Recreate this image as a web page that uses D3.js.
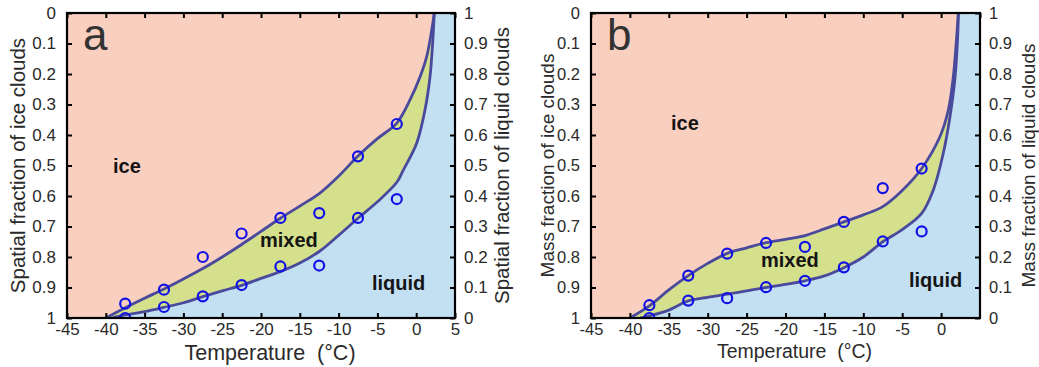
<!DOCTYPE html>
<html>
<head>
<meta charset="utf-8">
<script src="https://cdn.jsdelivr.net/npm/d3@7"></script>
<style>
  body { margin: 0; background: #fff; }
  svg { display: block; font-family: "Liberation Sans", Arial, sans-serif; }
</style>
</head>
<body>
<div id="chart"></div>
<script>
// datos
const tempTicks = [-45, -40, -35, -30, -25, -20, -15, -10, -5, 0, 5];
const tempTicksB = [-45, -40, -35, -30, -25, -20, -15, -10, -5, 0];
const fracTicks = [0, 0.1, 0.2, 0.3, 0.4, 0.5, 0.6, 0.7, 0.8, 0.9, 1];
const obsTemps = [-37.5, -32.5, -27.5, -22.5, -17.5, -12.5, -7.5, -2.5];

// panel a: fraccion espacial
const aUpperObs = [0.953, 0.907, 0.800, 0.723, 0.672, 0.656, 0.470, 0.364];
const aLowerObs = [1.000, 0.964, 0.929, 0.892, 0.831, 0.828, 0.672, 0.610];
const aUpperT = [-40, -37.5, -35, -32.5, -30, -27.5, -25, -22.5, -20, -17.5, -15, -12.5, -10, -7.5, -5, -2.5, -0.8, 0.5, 1.35, 2.0, 2.33];
const aUpperV = [1.0, 0.966, 0.935, 0.905, 0.872, 0.838, 0.800, 0.759, 0.716, 0.673, 0.633, 0.592, 0.535, 0.469, 0.412, 0.361, 0.285, 0.209, 0.143, 0.056, 0];
const aLowerT = [-39.2, -37.5, -35, -32.5, -30, -27.5, -25, -22.5, -20, -17.5, -15, -12.5, -10, -7.5, -5, -2.5, -1.66, 0.06, 1.13, 1.78, 2.12, 2.33];
const aLowerV = [1.0, 0.99, 0.979, 0.965, 0.950, 0.930, 0.911, 0.893, 0.870, 0.848, 0.820, 0.782, 0.729, 0.673, 0.619, 0.555, 0.515, 0.427, 0.318, 0.209, 0.099, 0];

// panel b: fraccion de masa
const bUpperObs = [0.958, 0.861, 0.789, 0.754, 0.767, 0.685, 0.574, 0.510];
const bLowerObs = [1.000, 0.943, 0.935, 0.899, 0.878, 0.834, 0.749, 0.716];
const bUpperT = [-40, -37.5, -35, -32.5, -30, -27.5, -25, -22.5, -20, -17.5, -15, -12.5, -10, -7.5, -5, -2.5, -0.14, 0.93, 1.57, 2.0, 2.22];
const bUpperV = [1.0, 0.960, 0.908, 0.861, 0.821, 0.788, 0.770, 0.753, 0.742, 0.730, 0.708, 0.685, 0.662, 0.635, 0.582, 0.510, 0.405, 0.318, 0.209, 0.078, 0];
const bLowerT = [-38.7, -37.5, -35, -32.5, -30, -27.5, -25, -22.5, -20, -17.5, -15, -12.5, -10, -7.5, -5, -2.5, -1.0, 0.28, 1.14, 1.8, 2.13, 2.22];
const bLowerV = [1.0, 0.993, 0.974, 0.944, 0.932, 0.922, 0.911, 0.900, 0.890, 0.878, 0.862, 0.835, 0.800, 0.750, 0.710, 0.657, 0.580, 0.460, 0.340, 0.209, 0.078, 0];

const width = 1039;
const height = 367;

const colores = {
    ice: "#f9cfbf",
    mixed: "#d4e08c",
    liquid: "#c3e0f3",
    curva: "#4a4a9c",
    punto: "#1212e6"
};

const svg = d3.select("#chart")
    .append("svg")
    .attr("width", width)
    .attr("height", height);

const dibujarPanel = (p) => {
    const x = d3.scaleLinear().domain([-45, 5]).range([p.left, p.right]);
    const y = d3.scaleLinear().domain([0, 1]).range([p.top, p.bottom]);
    const yR = d3.scaleLinear().domain([1, 0]).range([p.top, p.bottom]);

    const g = svg.append("g");

    g.append("clipPath").attr("id", "clip" + p.id)
        .append("rect")
        .attr("x", p.left).attr("y", p.top)
        .attr("width", p.right - p.left).attr("height", p.bottom - p.top);

    const area = g.append("g").attr("clip-path", `url(#clip${p.id})`);

    // fondo = hielo
    area.append("rect")
        .attr("x", p.left).attr("y", p.top)
        .attr("width", p.right - p.left).attr("height", p.bottom - p.top)
        .attr("fill", colores.ice);

    const linea = d3.line()
        .x((d) => x(d[0]))
        .y((d) => y(d[1]))
        .curve(d3.curveCatmullRom.alpha(0.5));

    const upper = p.upperT.map((t, i) => [t, p.upperV[i]]);
    const lower = p.lowerT.map((t, i) => [t, p.lowerV[i]]);
    const cierre = `L${x(5) + 2},${y(0) - 2}L${x(5) + 2},${y(1) + 2}Z`;

    area.append("path").attr("d", linea(upper) + cierre).attr("fill", colores.mixed);
    area.append("path").attr("d", linea(lower) + cierre).attr("fill", colores.liquid);

    area.selectAll("path.curva")
        .data([upper, lower])
        .join("path")
        .attr("class", "curva")
        .attr("d", linea)
        .attr("fill", "none")
        .attr("stroke", colores.curva)
        .attr("stroke-width", 2.8);

    const puntos = obsTemps.map((t, i) => [t, p.upperObs[i]])
        .concat(obsTemps.map((t, i) => [t, p.lowerObs[i]]));

    area.selectAll("circle")
        .data(puntos)
        .join("circle")
        .attr("cx", (d) => x(d[0]))
        .attr("cy", (d) => y(d[1]))
        .attr("r", 5)
        .attr("fill", "none")
        .attr("stroke", colores.punto)
        .attr("stroke-width", 2.2);

    // ejes con ticks hacia dentro
    const fmt = (d) => String(+d.toFixed(1));

    const ejeAbajo = g.append("g")
        .attr("transform", `translate(0,${p.bottom})`)
        .call(d3.axisBottom(x).tickValues(p.xLabels).tickFormat(fmt)
            .tickSizeInner(-5).tickSizeOuter(0).tickPadding(5));
    const ejeArriba = g.append("g")
        .attr("transform", `translate(0,${p.top})`)
        .call(d3.axisTop(x).tickValues(tempTicks).tickFormat("")
            .tickSizeInner(-5).tickSizeOuter(0));
    const ejeIzq = g.append("g")
        .attr("transform", `translate(${p.left},0)`)
        .call(d3.axisLeft(y).tickValues(fracTicks).tickFormat(fmt)
            .tickSizeInner(-5).tickSizeOuter(0).tickPadding(11));
    const ejeDer = g.append("g")
        .attr("transform", `translate(${p.right},0)`)
        .call(d3.axisRight(yR).tickValues(fracTicks).tickFormat(fmt)
            .tickSizeInner(-5).tickSizeOuter(0).tickPadding(9));

    [ejeAbajo, ejeArriba, ejeIzq, ejeDer].forEach((e) => {
        e.select(".domain").remove();
        e.selectAll("line").attr("stroke", "#000").attr("stroke-width", 2);
        e.selectAll("text")
            .attr("font-family", '"Liberation Sans", Arial, sans-serif')
            .attr("font-size", p.tickFont)
            .attr("fill", "#2a2a2a");
    });

    // marco
    g.append("rect")
        .attr("x", p.left).attr("y", p.top)
        .attr("width", p.right - p.left).attr("height", p.bottom - p.top)
        .attr("fill", "none")
        .attr("stroke", "#000")
        .attr("stroke-width", 2.2);

    // titulos
    g.append("text")
        .attr("x", (p.left + p.right) / 2 + 9)
        .attr("y", p.xTitleY)
        .attr("text-anchor", "middle")
        .attr("font-size", p.xTitleFont)
        .attr("fill", "#2a2a2a")
        .attr("xml:space", "preserve")
        .text("Temperature  (°C)");

    const yc = (p.top + p.bottom) / 2;
    g.append("text")
        .attr("transform", `translate(${p.titleL},${yc}) rotate(-90)`)
        .attr("text-anchor", "middle")
        .attr("dy", "0.35em")
        .attr("font-size", p.yTitleFont)
        .attr("fill", "#2a2a2a")
        .text(p.leftTitle);
    g.append("text")
        .attr("transform", `translate(${p.titleR},${yc}) rotate(-90)`)
        .attr("text-anchor", "middle")
        .attr("dy", "0.35em")
        .attr("font-size", p.yTitleFont)
        .attr("fill", "#2a2a2a")
        .text(p.rightTitle);

    g.append("text")
        .attr("x", p.left + 16)
        .attr("y", 50)
        .attr("font-size", 44)
        .attr("fill", "#333")
        .text(p.id);

    p.etiquetas.forEach((e) => {
        g.append("text")
            .attr("x", e.x)
            .attr("y", e.y)
            .attr("font-size", 20)
            .attr("font-weight", "bold")
            .attr("fill", "#151515")
            .text(e.t);
    });
};

dibujarPanel({
    id: "a",
    left: 67, right: 455, top: 13, bottom: 318,
    xLabels: tempTicks,
    upperT: aUpperT, upperV: aUpperV, lowerT: aLowerT, lowerV: aLowerV,
    upperObs: aUpperObs, lowerObs: aLowerObs,
    leftTitle: "Spatial fraction of ice clouds",
    rightTitle: "Spatial fraction of liquid clouds",
    titleL: 18, titleR: 502,
    tickFont: 17, xTitleFont: 21.5, yTitleFont: 20.5, xTitleY: 360,
    etiquetas: [
        { t: "ice", x: 113, y: 173 },
        { t: "mixed", x: 260, y: 247 },
        { t: "liquid", x: 372, y: 290 }
    ]
});

dibujarPanel({
    id: "b",
    left: 591, right: 980, top: 13, bottom: 318,
    xLabels: tempTicksB,
    upperT: bUpperT, upperV: bUpperV, lowerT: bLowerT, lowerV: bLowerV,
    upperObs: bUpperObs, lowerObs: bLowerObs,
    leftTitle: "Mass fraction of ice clouds",
    rightTitle: "Mass fraction of liquid clouds",
    titleL: 547, titleR: 1028,
    tickFont: 16.5, xTitleFont: 19.5, yTitleFont: 19, xTitleY: 358,
    etiquetas: [
        { t: "ice", x: 671, y: 130 },
        { t: "mixed", x: 761, y: 267 },
        { t: "liquid", x: 909, y: 287 }
    ]
});
</script>
</body>
</html>
